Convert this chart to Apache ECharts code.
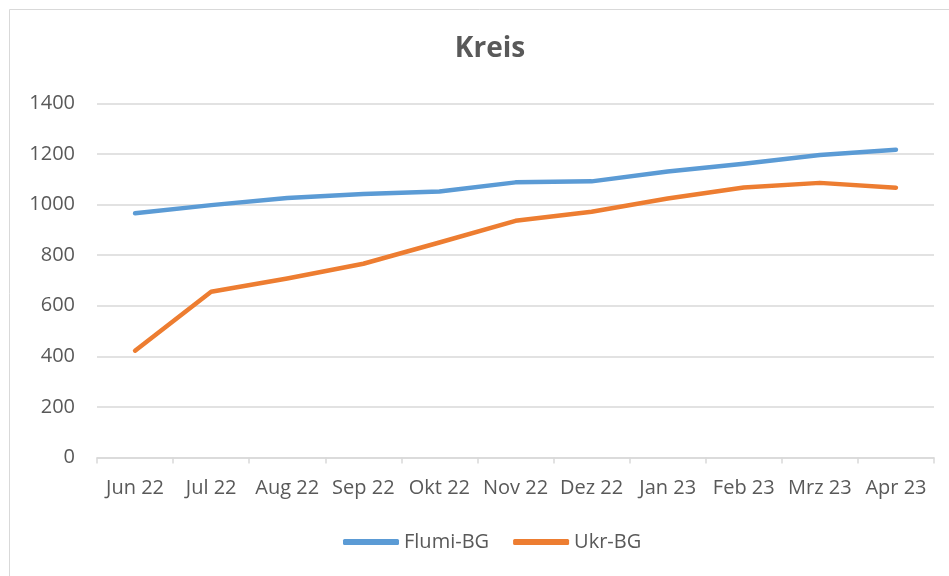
<!DOCTYPE html>
<html><head><meta charset="utf-8">
<script src="https://cdn.jsdelivr.net/npm/echarts@6/dist/echarts.min.js"></script>
<style>html,body{margin:0;padding:0;background:#fff}#c{width:949px;height:576px}</style>
</head><body><div id="c"></div>
<script>
const categories = ['Jun 22','Jul 22','Aug 22','Sep 22','Okt 22','Nov 22','Dez 22','Jan 23','Feb 23','Mrz 23','Apr 23'];
const flumiBG = [966, 998, 1026, 1042, 1052, 1088, 1092, 1131, 1162, 1196, 1217];
const ukrBG = [422, 655, 708, 766, 850, 936, 972, 1024, 1068, 1086, 1067];
const yTicks = [0, 200, 400, 600, 800, 1000, 1200, 1400];

const chart = echarts.init(document.getElementById('c'), null, {renderer:'canvas'});
const font = '"Open Sans", "Noto Sans", sans-serif';
chart.setOption({
  animation: false,
  backgroundColor: '#fff',
  graphic: [{type:'rect', shape:{x:9.5,y:9.5,width:960,height:600}, style:{fill:'none', stroke:'#d9d9d9', lineWidth:1}, silent:true}],
  title: {text:'Kreis', left: 485, top: 30, textAlign:'center',
    textStyle:{fontFamily:font, fontSize:28, fontWeight:'bold', color:'#595959'}},
  legend: {top: 527, left: 338, itemGap: 24, itemWidth: 56, itemHeight: 6,
    icon: 'roundRect',
    textStyle:{fontFamily:font, fontSize:20, color:'#595959'},
    data: ['Flumi-BG','Ukr-BG']},
  grid: {left: 97, right: 15, top: 103.5, bottom: 118.6, containLabel:false},
  xAxis: {type:'category', data: categories, boundaryGap:true,
    axisLine:{lineStyle:{color:'#d9d9d9', width:1.5}},
    axisTick:{show:true, length:6, inside:false, lineStyle:{color:'#d9d9d9', width:1.5}},
    axisLabel:{fontFamily:font, fontSize:20, color:'#595959', margin:21, interval:0}},
  yAxis: {type:'value', min: yTicks[0], max: yTicks[yTicks.length-1], interval: 200,
    axisLine:{show:false}, axisTick:{show:false},
    splitLine:{lineStyle:{color:'#d9d9d9', width:1.5}},
    axisLabel:{fontFamily:font, fontSize:20, color:'#595959', margin:22, formatter: v => String(v)}},
  series: [
    {name:'Flumi-BG', type:'line', data: flumiBG, symbol:'none', lineStyle:{color:'#5b9bd5', width:4.5, cap:'round', join:'round'}, itemStyle:{color:'#5b9bd5'}},
    {name:'Ukr-BG', type:'line', data: ukrBG, symbol:'none', lineStyle:{color:'#ed7d31', width:4.5, cap:'round', join:'round'}, itemStyle:{color:'#ed7d31'}}
  ]
});
</script></body></html>
